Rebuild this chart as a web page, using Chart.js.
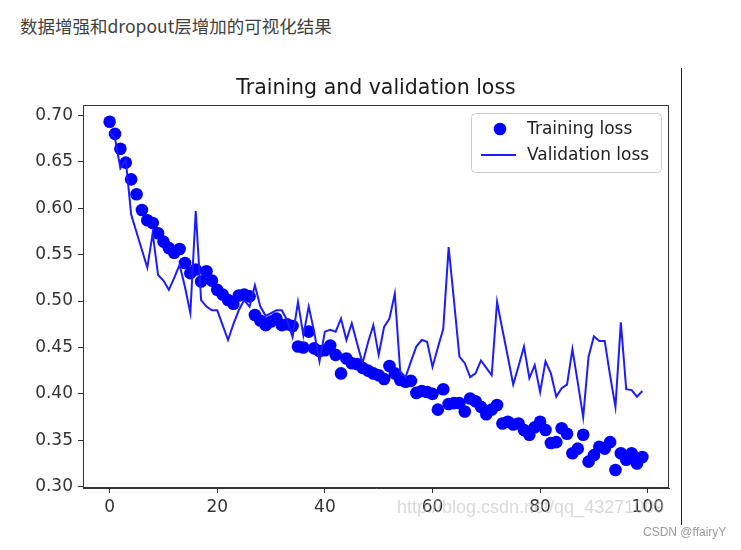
<!DOCTYPE html>
<html><head><meta charset="utf-8">
<script src="https://cdn.jsdelivr.net/npm/chart.js@4.4.0/dist/chart.umd.min.js"></script>
<style>
html,body{margin:0;padding:0;background:#fff;width:741px;height:550px;overflow:hidden;}
#wrap{position:relative;width:741px;height:550px;}
#heading{position:absolute;left:20px;top:15px;font-family:"Noto Sans CJK SC","Noto Sans",sans-serif;font-size:17.5px;line-height:22px;color:#404040;white-space:nowrap;}
canvas{position:absolute;left:0;top:0;}
#vline{position:absolute;left:681px;top:68px;width:1px;height:457px;background:#222;}
#wm{position:absolute;left:397px;top:497px;font-family:"Liberation Sans",Arial,sans-serif;font-size:18px;color:rgba(185,185,185,0.55);white-space:nowrap;}
#csdn{position:absolute;left:643px;top:525px;font-family:"Liberation Sans",Arial,sans-serif;font-size:12px;color:#999;white-space:nowrap;}
</style></head>
<body>
<div id="wrap">
<div id="heading">数据增强和dropout层增加的可视化结果</div>
<canvas id="c" width="741" height="550"></canvas>
<div id="vline"></div>
<div id="wm">http://blog.csdn.net/qq_43271009</div>
<div id="csdn">CSDN @ffairyY</div>
</div>
<script>
const epochs = [0,1,2,3,4,5,6,7,8,9,10,11,12,13,14,15,16,17,18,19,20,21,22,23,24,25,26,27,28,29,30,31,32,33,34,35,36,37,38,39,40,41,42,43,44,45,46,47,48,49,50,51,52,53,54,55,56,57,58,59,60,61,62,63,64,65,66,67,68,69,70,71,72,73,74,75,76,77,78,79,80,81,82,83,84,85,86,87,88,89,90,91,92,93,94,95,96,97,98,99];
const trainingLoss = [0.693,0.680,0.664,0.649,0.631,0.615,0.598,0.587,0.584,0.573,
0.564,0.557,0.552,0.556,0.541,0.530,0.534,0.521,0.532,0.522,
0.512,0.507,0.501,0.497,0.506,0.507,0.505,0.485,0.479,0.474,
0.478,0.481,0.474,0.475,0.473,0.451,0.450,0.467,0.449,0.446,
0.447,0.452,0.442,0.422,0.438,0.433,0.432,0.428,0.425,0.422,
0.420,0.416,0.430,0.422,0.415,0.413,0.414,0.401,0.403,0.402,
0.400,0.383,0.405,0.389,0.390,0.390,0.381,0.395,0.392,0.386,
0.378,0.383,0.388,0.368,0.370,0.367,0.368,0.361,0.356,0.364,
0.370,0.361,0.347,0.348,0.363,0.357,0.336,0.341,0.356,0.327,
0.334,0.343,0.341,0.348,0.318,0.336,0.329,0.336,0.325,0.332];
const validationLoss = [0.683,0.675,0.643,0.652,0.593,0.574,0.555,0.536,0.573,0.528,
0.522,0.512,0.525,0.539,0.515,0.487,0.597,0.501,0.494,0.490,
0.490,0.474,0.458,0.475,0.490,0.501,0.494,0.517,0.494,0.484,
0.487,0.490,0.490,0.479,0.461,0.499,0.463,0.494,0.467,0.435,
0.467,0.469,0.467,0.481,0.458,0.476,0.454,0.433,0.455,0.474,
0.442,0.472,0.481,0.508,0.424,0.418,0.435,0.451,0.458,0.456,
0.429,0.450,0.470,0.558,0.500,0.440,0.433,0.418,0.422,0.436,
0.428,0.420,0.499,0.469,0.440,0.410,0.430,0.451,0.417,0.431,
0.402,0.435,0.422,0.397,0.406,0.410,0.448,0.412,0.375,0.440,
0.462,0.457,0.457,0.420,0.386,0.477,0.405,0.404,0.397,0.403];
const xTicks = [0,20,40,60,80,100];
const yTicks = [0.30,0.35,0.40,0.45,0.50,0.55,0.60,0.65,0.70];
const chartTitle = 'Training and validation loss';
const seriesNames = ['Training loss','Validation loss'];

const BLUE = '#0000ff';
const LINE_BLUE = '#1c1cff';
const AXIS = '#333333';
const TICKFONT = {family:'"DejaVu Sans", sans-serif', size:17};

const framePlugin = {
  id:'frame',
  afterDatasetsDraw(chart){
    const {ctx, chartArea:a} = chart;
    ctx.save();
    ctx.strokeStyle = AXIS; ctx.lineWidth = 1;
    ctx.strokeRect(Math.round(a.left)+0.5, Math.round(a.top)+0.5, Math.round(a.right-a.left)-1, Math.round(a.bottom-a.top)-1);
    ctx.restore();
  }
};
const legendPlugin = {
  id:'mplLegend',
  afterDraw(chart){
    const {ctx, chartArea:a} = chart;
    const w = 190, h = 59;
    const x = a.right - 8 - w, y = a.top + 8;
    ctx.save();
    ctx.beginPath();
    ctx.roundRect(x+0.5, y+0.5, w, h, 4);
    ctx.fillStyle = 'rgba(255,255,255,0.9)'; ctx.fill();
    ctx.strokeStyle = '#cccccc'; ctx.lineWidth = 1; ctx.stroke();
    const ds = chart.data.datasets;
    // entry 1 : marker
    ctx.beginPath(); ctx.arc(x+29, y+16, 6.3, 0, Math.PI*2); ctx.fillStyle = BLUE; ctx.fill();
    // entry 2 : line
    ctx.beginPath(); ctx.moveTo(x+10, y+42); ctx.lineTo(x+45, y+42);
    ctx.strokeStyle = LINE_BLUE; ctx.lineWidth = 2; ctx.stroke();
    ctx.font = '17px "DejaVu Sans", sans-serif';
    ctx.fillStyle = '#222'; ctx.textBaseline = 'middle'; ctx.textAlign = 'left';
    ctx.fillText(ds[0].label, x+56, y+17);
    ctx.fillText(ds[1].label, x+56, y+43);
    ctx.restore();
  }
};

new Chart(document.getElementById('c'), {
  type:'line',
  data:{
    datasets:[
      {label:seriesNames[0], data:epochs.map((e,i)=>({x:e,y:trainingLoss[i]})), showLine:false,
       pointRadius:6.3, pointHoverRadius:6.3, pointBackgroundColor:BLUE, pointBorderWidth:0, borderColor:BLUE, backgroundColor:BLUE, order:2},
      {label:seriesNames[1], data:epochs.map((e,i)=>({x:e,y:validationLoss[i]})), showLine:true,
       borderColor:LINE_BLUE, borderWidth:2, pointRadius:0, tension:0, fill:false, order:1}
    ]
  },
  options:{
    responsive:false, animation:false, devicePixelRatio:1,
    layout:{padding:{left:0,right:72,top:0,bottom:0}},
    plugins:{
      legend:{display:false}, tooltip:{enabled:false},
      title:{display:true, text:chartTitle, fullSize:false, color:'#1a1a1a',
        font:{family:'"DejaVu Sans", sans-serif', size:20.5, weight:'normal', lineHeight:1.2},
        padding:{top:76,bottom:4.4}}
    },
    scales:{
      x:{type:'linear', min:-4.95, max:103.95,
        afterBuildTicks(s){ s.ticks = xTicks.map(v=>({value:v})); },
        afterFit(s){ s.height = 62; },
        ticks:{font:TICKFONT, color:AXIS, padding:4, maxRotation:0, callback:v=>String(v)},
        grid:{drawOnChartArea:false, drawTicks:true, tickLength:5, color:AXIS},
        border:{display:true, color:AXIS}
      },
      y:{type:'linear', min:0.2986, max:0.7111,
        afterBuildTicks(s){ s.ticks = yTicks.map(v=>({value:v})); },
        afterFit(s){ s.width = 83; },
        ticks:{font:TICKFONT, color:AXIS, padding:5, callback:v=>Number(v).toFixed(2)},
        grid:{drawOnChartArea:false, drawTicks:true, tickLength:5, color:AXIS},
        border:{display:true, color:AXIS}
      }
    }
  },
  plugins:[framePlugin, legendPlugin]
});
</script>
</body></html>
